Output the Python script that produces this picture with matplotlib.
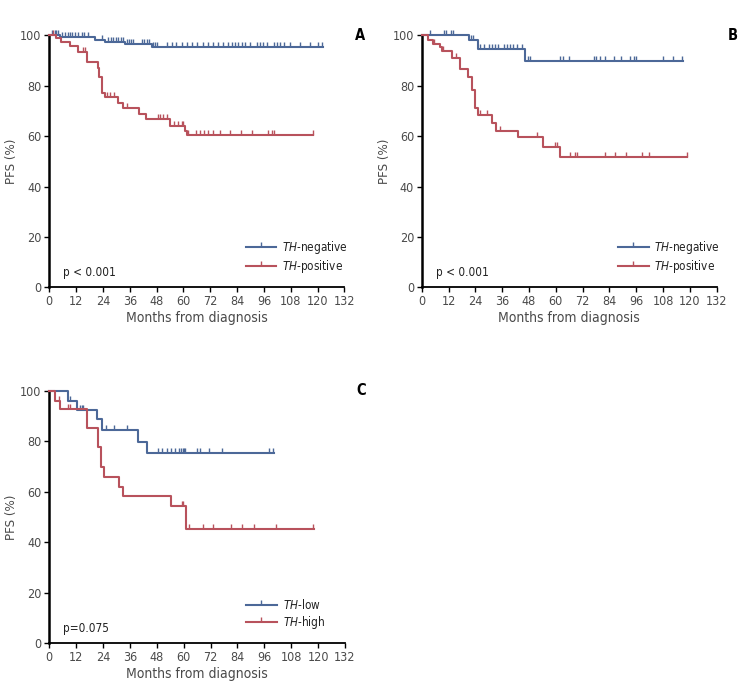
import matplotlib
matplotlib.use("Agg")
import matplotlib.pyplot as plt
from matplotlib import font_manager
from matplotlib.lines import Line2D
import numpy as np

# ---- font: a condensed sans if one is around ----
fonts = font_manager.fontManager.ttflist
names = {f.name for f in fonts}
cond = [f for f in fonts if f.name == "DejaVu Sans" and f.stretch in ("condensed", 400)]
if "Liberation Sans Narrow" in names:
    FONT, STRETCH = "Liberation Sans Narrow", "normal"
elif cond:
    FONT, STRETCH = "DejaVu Sans", "condensed"
else:
    FONT, STRETCH = "Liberation Sans", "normal"
plt.rcParams["font.family"] = [FONT, "DejaVu Sans"]
plt.rcParams["font.stretch"] = STRETCH
plt.rcParams["mathtext.fontset"] = "custom"
plt.rcParams["mathtext.it"] = FONT + ":italic"
plt.rcParams["mathtext.rm"] = FONT

BLUE = "#4c6898"
RED = "#b8525c"
GRAY = "#4a4a4a"

# ---- data (months, PFS %) ----
# panel A
a_neg_t = [0, 4.8, 20.4, 24.9, 33.9, 46.0]
a_neg_s = [100, 99.4, 98.2, 97.3, 96.6, 95.5]
a_neg_end = 122.6
a_neg_cens = [1.0, 2.5, 3.0, 3.7, 5.5, 7.0, 8.5, 9.3, 10.0, 11.5, 13.0, 14.5, 15.7, 17.2,
              23.4, 26.4, 27.6, 28.6, 29.7, 30.9, 32.1, 33.1, 34.6, 35.7, 36.6, 37.6,
              41.3, 42.4, 43.6, 44.6, 46.5, 47.3, 48.0, 52.5, 54.7, 56.9, 59.2, 61.4,
              63.7, 65.9, 68.9, 71.1, 73.4, 75.6, 77.9, 80.1, 81.6, 83.1, 84.6, 86.1,
              87.6, 89.8, 92.8, 94.3, 95.8, 97.3, 100.3, 101.8, 103.3, 104.8, 107.7,
              112.2, 116.7, 120.4, 121.9]

a_pos_t = [0, 3.0, 5.2, 9.3, 13.0, 16.7, 21.6, 22.3, 23.7, 24.9, 30.6, 33.1, 40.1,
           43.1, 54.0, 60.7, 61.5]
a_pos_s = [100, 98.8, 97.4, 95.6, 93.4, 89.3, 87.2, 83.6, 77.1, 75.4, 73.2, 71.0,
           68.7, 66.8, 64.2, 62.2, 60.4]
a_pos_end = 118.0
a_pos_cens = [1.5, 14.9, 16.0, 25.6, 27.3, 29.0, 34.6, 48.5, 49.5, 51.0, 52.5, 56.0,
              57.7, 59.2, 60.0, 62.2, 65.6, 67.4, 69.2, 71.1, 73.4, 76.4, 80.8, 85.6,
              90.5, 97.7, 99.5, 100.7, 117.8]

# panel B
b_neg_t = [0, 21.0, 25.0, 46.4]
b_neg_s = [100, 98.1, 94.6, 89.8]
b_neg_end = 117.0
b_neg_cens = [3.6, 9.9, 10.8, 13.0, 14.0, 22.0, 23.0, 26.3, 28.0, 30.0, 31.6, 33.0,
              34.3, 36.8, 38.0, 39.5, 41.0, 42.5, 44.7, 47.7, 48.5, 61.9, 63.1, 66.1,
              77.3, 78.2, 79.9, 81.8, 86.2, 89.2, 93.4, 95.2, 96.0, 108.1, 112.6, 116.4]

b_pos_t = [0, 3.0, 5.2, 8.2, 9.0, 13.4, 17.2, 20.9, 22.4, 23.9, 25.0, 31.4, 33.4,
           42.9, 54.2, 61.7]
b_pos_s = [100, 98.3, 96.7, 95.4, 93.9, 90.9, 86.5, 83.6, 78.3, 71.0, 68.4, 65.1,
           62.1, 59.8, 55.6, 51.9]
b_pos_end = 118.6
b_pos_cens = [5.5, 9.7, 15.4, 26.1, 29.1, 35.1, 51.5, 59.7, 60.5, 66.4, 68.7, 69.4,
              81.8, 86.6, 91.5, 98.5, 101.9, 118.6]

# panel C
c_low_t = [0, 8.5, 12.2, 21.2, 23.7, 39.5, 43.6]
c_low_s = [100, 96.2, 92.5, 88.8, 84.5, 79.9, 75.3]
c_low_end = 100.3
c_low_cens = [9.3, 13.7, 14.5, 15.2, 25.4, 28.7, 34.6, 48.5, 50.5, 52.5, 54.5, 56.3,
              57.7, 58.7, 59.5, 60.0, 60.7, 66.0, 67.4, 71.2, 77.2, 98.1, 100.0]

c_high_t = [0, 2.4, 4.9, 16.8, 21.6, 23.2, 24.4, 30.9, 32.9, 54.3, 60.9]
c_high_s = [100, 96.0, 92.9, 85.2, 77.9, 70.0, 66.0, 62.1, 58.4, 54.5, 45.2]
c_high_end = 118.1
c_high_cens = [4.4, 8.2, 9.3, 59.2, 59.9, 62.2, 68.6, 72.9, 80.9, 86.1, 91.3, 101.0,
               117.8]

xticks = list(range(0, 133, 12))
yticks = [0, 20, 40, 60, 80, 100]


def km(ax, t, s, end, cens, color):
    x = list(t) + [end]
    y = list(s) + [s[-1]]
    ax.step(x, y, where="post", color=color, lw=1.5, clip_on=False, zorder=3)
    idx = np.searchsorted(np.array(t), np.array(cens), side="right") - 1
    cy = np.array(s)[idx]
    ax.plot(cens, cy, linestyle="none", marker=2, markersize=3.8, mew=1.0,
            color=color, clip_on=False, zorder=3)


def style(ax, letter, ptxt, labels):
    ax.set_xlim(0, 132)
    ax.set_ylim(0, 100)
    ax.set_xticks(xticks)
    ax.set_yticks(yticks)
    for sp in ("top", "right"):
        ax.spines[sp].set_visible(False)
    ax.spines["left"].set_linewidth(1.8)
    ax.spines["bottom"].set_linewidth(1.3)
    ax.tick_params(direction="out", length=3.5, width=1.0, labelsize=9,
                   labelcolor=GRAY, pad=2)
    ax.set_xlabel("Months from diagnosis", fontsize=10, color=GRAY, labelpad=2)
    ax.set_ylabel("PFS (%)", fontsize=9.5, color=GRAY)
    ax.yaxis.set_label_coords(-0.105, 0.5)
    ax.text(1.07, 1.0, letter, transform=ax.transAxes, fontsize=10.5,
            fontweight="bold", ha="right", va="center")
    ax.text(0.047, 0.057, ptxt, transform=ax.transAxes, fontsize=8.5,
            color="#222222", ha="left", va="center")
    handles = [Line2D([0], [0], color=BLUE, lw=1.5, marker=2, markersize=3.8,
                      mew=1.0),
               Line2D([0], [0], color=RED, lw=1.5, marker=2, markersize=3.8,
                      mew=1.0)]
    leg = ax.legend(handles, labels, loc="lower left", bbox_to_anchor=(0.665, 0.05),
                    frameon=False, fontsize=8.5, handlelength=2.6,
                    handletextpad=0.5, labelspacing=0.15, borderpad=0,
                    borderaxespad=0)
    for txt in leg.get_texts():
        txt.set_color("#222222")


fig = plt.figure(figsize=(7.47, 6.88), dpi=100)
axA = fig.add_axes([0.066, 0.5824, 0.395, 0.3663])
axB = fig.add_axes([0.5645, 0.5824, 0.395, 0.3663])
axC = fig.add_axes([0.066, 0.0650, 0.3958, 0.3667])

km(axA, a_neg_t, a_neg_s, a_neg_end, a_neg_cens, BLUE)
km(axA, a_pos_t, a_pos_s, a_pos_end, a_pos_cens, RED)
style(axA, "A", "p < 0.001", [r"$\it{TH}$-negative", r"$\it{TH}$-positive"])

km(axB, b_neg_t, b_neg_s, b_neg_end, b_neg_cens, BLUE)
km(axB, b_pos_t, b_pos_s, b_pos_end, b_pos_cens, RED)
style(axB, "B", "p < 0.001", [r"$\it{TH}$-negative", r"$\it{TH}$-positive"])

km(axC, c_low_t, c_low_s, c_low_end, c_low_cens, BLUE)
km(axC, c_high_t, c_high_s, c_high_end, c_high_cens, RED)
style(axC, "C", "p=0.075", [r"$\it{TH}$-low", r"$\it{TH}$-high"])

fig.savefig("out.png", dpi=100)
